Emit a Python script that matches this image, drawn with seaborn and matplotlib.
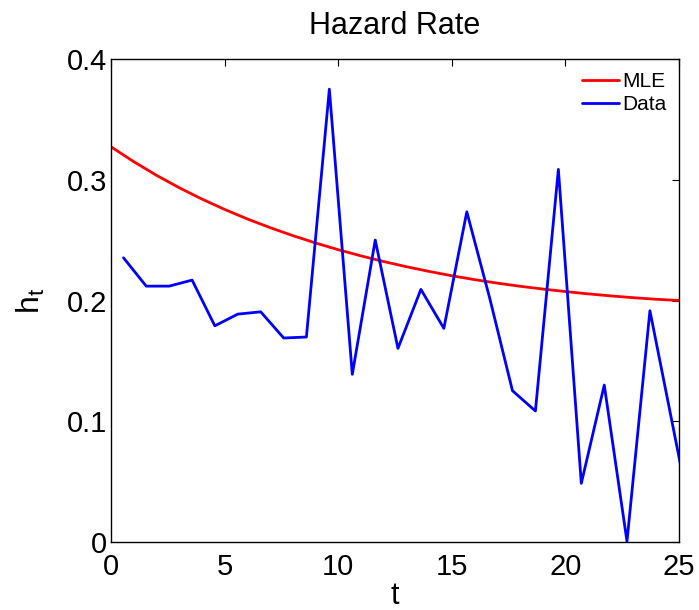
import matplotlib
matplotlib.use("Agg")
import matplotlib.pyplot as plt
import seaborn as sns
import pandas as pd

# MLE curve (read at integer t)
mle_t = [0, 1, 2, 3, 4, 5, 6, 7, 8, 9, 10, 11, 12, 13, 14, 15, 16, 17, 18, 19, 20, 21, 22, 23, 24, 25]
mle_h = [0.3276, 0.3153, 0.3040, 0.2937, 0.2843, 0.2757, 0.2678, 0.2606, 0.2540, 0.2479, 0.2423,
         0.2372, 0.2325, 0.2282, 0.2243, 0.2207, 0.2175, 0.2146, 0.2120, 0.2097, 0.2076, 0.2057,
         0.2040, 0.2025, 0.2012, 0.2002]

# observed hazard rates
data_t = [0.55, 1.55, 2.56, 3.57, 4.57, 5.58, 6.59, 7.60, 8.60, 9.61, 10.62, 11.63, 12.63,
          13.64, 14.65, 15.66, 16.67, 17.67, 18.68, 19.69, 20.70, 21.71, 22.71, 23.72, 24.73, 25.74]
data_h = [0.2356, 0.2121, 0.2121, 0.2171, 0.1792, 0.1889, 0.1908, 0.1691, 0.1699, 0.3754,
          0.1390, 0.2503, 0.1605, 0.2094, 0.1771, 0.2737, 0.2020, 0.1254, 0.1086, 0.3089,
          0.0486, 0.1301, 0.0005, 0.1917, 0.0960, 0.0000]

title = "Hazard Rate"
xlabel = "t"
ylabel = "h$_\\mathregular{t}$"

sns.set_style("white")
plt.rcParams['font.family'] = ['Liberation Sans', 'DejaVu Sans']
plt.rcParams['mathtext.fontset'] = 'custom'
plt.rcParams['mathtext.rm'] = 'Liberation Sans'
plt.rcParams['text.color'] = 'black'
plt.rcParams['axes.labelcolor'] = 'black'

fig = plt.figure(figsize=(6.99, 6.10), dpi=100)
ax = fig.add_axes([0.1588, 0.1115, 0.8126, 0.791])

df_mle = pd.DataFrame({"t": mle_t, "h": mle_h})
df_data = pd.DataFrame({"t": data_t, "h": data_h})

sns.lineplot(data=df_mle, x="t", y="h", ax=ax, color=(1, 0, 0), linewidth=2, label="MLE", sort=False)
sns.lineplot(data=df_data, x="t", y="h", ax=ax, color=(0, 0, 1), linewidth=2, label="Data", sort=False)

ax.set_xlim(0, 25)
ax.set_ylim(0, 0.4)
ax.set_xticks([0, 5, 10, 15, 20, 25])
ax.set_yticks([0, 0.1, 0.2, 0.3, 0.4])
ax.set_yticklabels(["0", "0.1", "0.2", "0.3", "0.4"])
ax.tick_params(direction="in", top=True, right=True, length=5, width=0.8,
               labelsize=21, colors="black")
ax.tick_params(axis="y", pad=3)
ax.tick_params(axis="x", pad=8)
for s in ax.spines.values():
    s.set_color("black")
    s.set_linewidth(1.0)

ax.set_title(title, fontsize=22, pad=18, color="black")
ax.set_xlabel(xlabel, fontsize=22, labelpad=0)
ax.set_ylabel(ylabel, fontsize=23, labelpad=14)

leg = ax.legend(loc="upper right", frameon=False, fontsize=15, handlelength=1.8,
                handletextpad=0.15, borderaxespad=0.2, labelspacing=0.2)

fig.savefig("out.png", dpi=100)
